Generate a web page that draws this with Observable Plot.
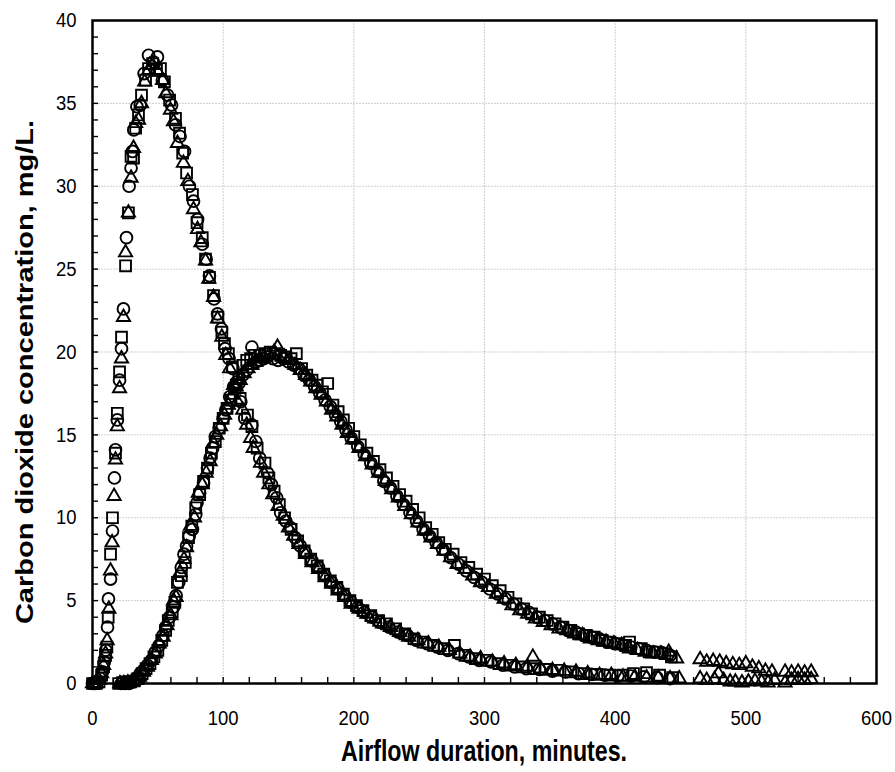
<!DOCTYPE html>
<html><head><meta charset="utf-8">
<script src="https://cdn.jsdelivr.net/npm/d3@7"></script>
<script src="https://cdn.jsdelivr.net/npm/@observablehq/plot@0.6"></script>
<style>body{margin:0;background:#fff;}</style>
</head><body><div id="chart"></div>
<script>
// Tick values
const xMajorTicks = [0,100,200,300,400,500,600];
const yMajorTicks = [0,5,10,15,20,25,30,35,40];
const xGridTicks = [100,200,300,400,500];
const yGridTicks = [5,10,15,20,25,30,35];
const xMinorTicks = [0,20,40,60,80,100,120,140,160,180,200,220,240,260,280,300,320,340,360,380,400,420,440,460,480,500,520,540,560,580];
const yMinorTicks = [1,2,3,4,5,6,7,8,9,10,11,12,13,14,15,16,17,18,19,20,21,22,23,24,25,26,27,28,29,30,31,32,33,34,35,36,37,38,39];

const xTitle = "Airflow duration, minutes.";
const yTitle = "Carbon dioxide concentration, mg/L.";

// Early-peak run: [minutes, mg/L]
const earlyCircles = [[0,0],[2,0],[4,0.1],[6,0.3],[7.5,0.7],[9,1.3],[10.2,2.0],[11.5,3.4],[12.2,5.1],[13.8,6.3],[15.3,9.2],[16.8,12.4],[17.6,14.1],[19,15.9],[20.7,18.3],[22.2,20.2],[23.7,22.6],[26,26.9],[28,30.0],[29.5,31.1],[30.6,32.1],[31.6,33.4],[34,34.8],[36.5,34.9],[39.5,36.8],[42.9,37.9],[46.5,37.5],[49.7,37.8],[53.5,36.4],[57.4,35.5],[60.5,34.9],[63.5,33.7],[67,33.0],[70.4,32.1],[74.2,30.0],[77.3,29.1],[80.4,28.0],[84,26.5],[87,25.6],[89.5,24.6],[93,23.2],[95.7,22.3],[98.7,21.4],[101.5,20.2],[104.5,19.6],[107.5,19.0],[110.5,18.2],[113.5,17.0],[116.5,16.0],[122,15.6],[125,14.6],[128,13.6],[134,12.7],[137,12.0],[141,11.2],[144,10.3],[148,9.8],[151.5,9.4],[155,8.8],[159,8.3],[163,7.9],[168,7.4],[173,7.0],[178,6.5],[183,6.1],[188,5.7],[193,5.3],[198,4.9],[203,4.6],[208,4.3],[214,4.0],[220,3.7],[227,3.4],[234,3.1],[241,2.9],[248,2.6],[256,2.4],[264,2.2],[272,2.0],[280,1.8],[288,1.6],[296,1.4],[305,1.3],[314,1.1],[323,1.0],[332,0.9],[342,0.85],[352,0.75],[362,0.7],[372,0.6],[382,0.55],[392,0.5],[402,0.45],[412,0.45],[422,0.4],[432,0.35],[442,0.3]];
const earlySquares = [[0,0],[1.5,0],[3,0],[5,0.1],[7,0.5],[8.5,1.0],[10,1.7],[11,2.2],[12,4.0],[13.8,7.8],[15.3,10.0],[17.6,13.9],[19,16.3],[20.7,18.8],[22.2,20.9],[25.3,25.2],[27.5,28.4],[29.5,31.8],[31.4,31.7],[33,33.5],[35.2,34.3],[37.5,35.5],[40.6,36.4],[42.9,37.1],[46,37.4],[49,37.0],[52,37.1],[55,36.3],[59,35.2],[63.5,34.1],[66.6,33.2],[69,32.0],[72,30.8],[76.5,29.5],[80,27.8],[84,26.9],[86.5,25.6],[89.5,24.5],[92.6,23.4],[96,22.1],[99,21.2],[101,20.5],[104,19.9],[107,19.1],[110,18.0],[113,17.2],[118.6,16.2],[122,15.5],[126,14.2],[132,13.3],[135,12.4],[139,11.6],[143,10.8],[147,10.0],[152,9.3],[157,8.6],[162,8.0],[167,7.5],[172,7.1],[177,6.6],[182,6.2],[187,5.8],[192,5.4],[197,5.0],[202,4.7],[207,4.4],[213,4.1],[219,3.8],[225,3.6],[232,3.3],[239,3.0],[246,2.7],[253,2.5],[261,2.3],[269,2.1],[277,2.3],[285,1.7],[293,1.5],[302,1.4],[311,1.2],[320,1.1],[329,1.0],[338,0.9],[347,0.85],[356,0.8],[366,0.7],[376,0.6],[386,0.55],[396,0.5],[406,0.5],[414,0.6],[424,0.65],[434,0.5],[444,0.35]];
const earlyTriangles = [[0,0],[2.5,0],[5,0.2],[7,0.6],[8.5,1.1],[10,1.8],[11.2,2.6],[12.5,4.5],[13.8,6.8],[15,8.5],[16.5,11.3],[17.6,13.5],[19,15.5],[20.7,17.8],[22.2,19.6],[23.7,22.1],[25.3,26.0],[27.5,28.4],[29.5,30.5],[31.4,32.3],[33,33.8],[35.2,34.0],[37.5,35.0],[40,36.3],[43,37.0],[46,37.3],[50,36.9],[53.6,36.4],[56,35.6],[59.7,34.6],[62,33.9],[65,32.6],[69.6,31.4],[73,30.3],[77.3,28.6],[80.4,27.4],[83,26.6],[86.5,25.5],[89,24.4],[92.6,23.3],[95.7,22.0],[99,20.9],[102,19.8],[105,19.0],[108,18.0],[111,17.0],[115,16.5],[118,15.6],[121,14.8],[123,14.2],[128.6,13.3],[131,12.7],[135,12.0],[138,11.4],[142,10.7],[146,10.1],[150,9.4],[154,8.9],[158,8.4],[163,7.8],[168,7.3],[173,6.9],[178,6.4],[183,6.0],[188,5.6],[193,5.2],[198,4.8],[204,4.5],[210,4.2],[216,3.9],[222,3.6],[228,3.4],[235,3.1],[242,2.8],[249,2.6],[257,2.4],[265,2.2],[273,2.0],[281,1.8],[289,1.6],[297,1.5],[306,1.3],[315,1.2],[324,1.1],[333,1.0],[337,1.6],[343,0.9],[352,0.8],[361,0.75],[370,0.7],[379,0.6],[388,0.5],[397,0.5],[406,0.4],[415,0.4],[424,0.35],[433,0.35],[442,0.3],[449,0.3],[465,0.3],[470,0.2],[476,0.25],[479,0.6],[483,0.2],[488,0.1],[492,0.1],[497,0.05],[502,0.1],[507,0.15],[512,0.1],[517,0.05],[522,0.2],[530,0.05],[535,0.2],[540,0.25],[545,0.2],[550,0.25]];

// Late-peak run: [minutes, mg/L]
const lateCircles = [[22,0],[25,0],[28,0],[31,0.1],[34,0.2],[36.5,0.6],[39,0.8],[42,1.1],[45,1.4],[48,1.9],[51,2.3],[54,2.9],[56,3.4],[59,4.0],[62,4.6],[64,5.3],[66,6.1],[68,7.0],[70,7.8],[72,8.3],[74,8.9],[76.5,9.3],[79,10.2],[80,10.9],[82,11.5],[85,12.1],[88,13.0],[90,13.6],[92,14.2],[94,14.9],[97,15.4],[100,16.0],[102,16.5],[105,17.3],[108,17.9],[112,18.1],[115,18.6],[118,18.9],[122,20.3],[125,19.4],[128,19.5],[131,19.6],[134,19.7],[138,19.6],[142,19.5],[146,19.6],[150,19.4],[154,19.2],[158,19.0],[162,18.6],[166,18.3],[170,17.9],[174,17.5],[178,17.1],[182,16.7],[186,16.2],[190,15.8],[194,15.3],[198,14.8],[203,14.3],[208,13.8],[213,13.3],[218,12.8],[223,12.2],[228,11.8],[233,11.3],[238,10.8],[243,10.3],[248,9.8],[253,9.3],[258,8.9],[263,8.5],[268,8.1],[274,7.6],[280,7.2],[286,6.8],[292,6.4],[298,6.1],[304,5.7],[310,5.4],[316,5.1],[322,4.8],[328,4.5],[334,4.3],[340,4.0],[346,3.8],[352,3.6],[358,3.4],[364,3.2],[370,3.1],[376,2.9],[382,2.8],[388,2.7],[394,2.5],[400,2.4],[406,2.3],[412,2.2],[418,2.1],[424,2.0],[430,1.9],[436,1.85],[442,1.7]];
const lateSquares = [[20,0],[23,0.05],[26,0.1],[29,0.1],[32,0.15],[35,0.3],[38,0.6],[41,0.9],[44,1.2],[47,1.6],[50,2.0],[53,2.6],[56,3.2],[58,3.8],[61,4.3],[63,4.9],[65,6.1],[68,6.5],[71,7.3],[73.5,8.8],[76,9.5],[79,10.6],[82,11.4],[85,12.2],[88,13.0],[91,13.9],[94,14.6],[97,15.4],[100,16.0],[103,16.6],[106,17.1],[109,17.8],[112,18.4],[115,19.2],[118,19.5],[121,19.6],[124,19.8],[128,19.8],[132,19.9],[136,20.0],[140,19.9],[144,19.8],[148,19.7],[152,19.6],[156,19.9],[160,19.0],[164,18.6],[168,18.3],[172,18.0],[176,17.6],[180,18.1],[184,16.8],[188,16.4],[192,15.9],[196,15.4],[200,14.9],[205,14.4],[210,13.9],[215,13.4],[220,12.9],[225,12.4],[230,11.9],[235,11.4],[240,11.0],[245,10.5],[250,10.0],[255,9.4],[260,9.0],[265,8.5],[270,8.1],[276,7.8],[282,7.3],[288,7.0],[294,6.6],[300,6.3],[306,5.9],[312,5.6],[318,5.2],[324,4.8],[330,4.5],[336,4.2],[342,4.0],[348,3.8],[354,3.6],[360,3.4],[366,3.2],[372,3.0],[378,2.9],[384,2.8],[390,2.6],[396,2.5],[402,2.4],[408,2.3],[411,2.5],[420,2.1],[426,1.9],[432,1.9],[438,1.8],[443,1.6]];
const lateTriangles = [[21,0],[24,0],[27,0.05],[30,0.1],[33,0.2],[36,0.4],[39,0.7],[42,1.0],[45,1.4],[48,1.8],[51,2.4],[54,2.8],[57,3.5],[60,4.1],[62,5.0],[64,5.2],[67,6.7],[70,7.5],[72,8.2],[75,9.5],[78,10.0],[81,11.5],[84,12.0],[87,12.7],[90,13.4],[92.6,14.5],[95,15.0],[98,15.5],[101,16.2],[104,16.8],[107,17.4],[110,17.9],[113,18.3],[116,18.7],[119,19.0],[122,19.2],[125,19.4],[128,19.6],[131,19.7],[135,19.8],[139,20.0],[141.6,20.3],[147,19.7],[151,19.5],[155,19.2],[159,18.9],[163,18.6],[167,18.2],[171,17.8],[175,17.4],[179,17.0],[183,16.5],[187,16.1],[191,15.6],[195,15.1],[199,14.7],[204,14.2],[209,13.7],[214,13.2],[219,12.7],[224,12.2],[229,11.7],[234,11.2],[239,10.7],[244,10.2],[249,9.7],[254,9.2],[259,8.8],[264,8.4],[269,8.0],[274,7.6],[279,7.2],[285,6.9],[291,6.5],[297,6.1],[303,5.8],[309,5.4],[315,5.1],[321,4.7],[327,4.4],[333,4.2],[339,3.9],[345,3.7],[351,3.5],[357,3.3],[363,3.2],[369,3.0],[375,2.9],[381,2.7],[387,2.6],[393,2.5],[399,2.4],[405,2.3],[411,2.1],[417,2.0],[423,1.9],[429,1.8],[435,1.8],[441,1.9],[447,1.5],[465,1.45],[470,1.3],[475,1.35],[480,1.3],[485,1.2],[490,1.15],[495,1.1],[500,1.2],[505,1.0],[510,0.9],[515,0.75],[520,0.7],[530,0.7],[535,0.65],[540,0.7],[545,0.65],[550,0.7]];

const font = "'Liberation Sans', Arial, Helvetica, sans-serif";
const squeeze = 0.8;      // horizontal compression of the axis titles
const tickSqueeze = 0.88; // horizontal compression of the tick labels
const W = 895, H = 772;
const mL = 92, mR = 19, mT = 20, mB = 89;
const tickLenX = 6 * 40 / (H - mT - mB);   // 6 px in y-units
const tickLenY = 6 * 600 / (W - mL - mR);  // 6 px in x-units

const dotOpts = (sym, r) => ({x: d => d[0], y: d => d[1], symbol: sym, r, stroke: "#000", strokeWidth: 1.9, fill: "none"});

const chart = Plot.plot({
  width: W, height: H,
  marginLeft: mL, marginRight: mR, marginTop: mT, marginBottom: mB,
  style: {fontFamily: font, fontSize: "21px", color: "#000", background: "#fff"},
  x: {domain: [0, 600]},
  y: {domain: [0, 40]},
  marks: [
    Plot.ruleX(xGridTicks, {x: d => d, stroke: "#cfcfcf", strokeWidth: 1, strokeDasharray: "2,1"}),
    Plot.ruleY(yGridTicks, {y: d => d, stroke: "#cfcfcf", strokeWidth: 1, strokeDasharray: "2,1"}),
    Plot.ruleX(xMinorTicks, {x: d => d, y1: 0, y2: tickLenX, stroke: "#000", strokeWidth: 1.4}),
    Plot.ruleY(yMinorTicks, {y: d => d, x1: 0, x2: tickLenY, stroke: "#000", strokeWidth: 1.4}),
    Plot.axisX(xMajorTicks, {tickSize: 0, tickPadding: 27, label: null, fontSize: 21}),
    Plot.axisY(yMajorTicks, {tickSize: 0, tickPadding: 16, label: null, fontSize: 21}),
    Plot.dot(earlyCircles, dotOpts("circle", 5.9)),
    Plot.dot(earlySquares, dotOpts("square", 6.1)),
    Plot.dot(earlyTriangles, dotOpts("triangle", 4.9)),
    Plot.dot(lateCircles, dotOpts("circle", 5.9)),
    Plot.dot(lateSquares, dotOpts("square", 6.1)),
    Plot.dot(lateTriangles, dotOpts("triangle", 4.9)),
    Plot.frame({stroke: "#000", strokeWidth: 2.5})
  ]
});

const svg = d3.select(chart);
// compress tick labels horizontally about their anchor point
svg.selectAll('g[aria-label$="tick label"] text').each(function() {
  const t = this.getAttribute("transform");
  if (t) {
    this.setAttribute("transform", t + ` scale(${tickSqueeze},1)`);
  } else {
    const x = +(this.getAttribute("x") || 0), y = +(this.getAttribute("y") || 0);
    this.setAttribute("transform", `translate(${x},${y}) scale(${tickSqueeze},1) translate(${-x},${-y})`);
  }
});
svg.append("text")
  .attr("transform", `translate(${mL + (W - mL - mR) / 2},753) scale(${squeeze},1)`)
  .attr("text-anchor", "middle").attr("dominant-baseline", "middle")
  .style("font-family", font).style("font-size", "29px").style("font-weight", "bold")
  .text(xTitle);
svg.append("text")
  .attr("transform", `translate(27,372) scale(${squeeze},1) rotate(-90)`)
  .attr("text-anchor", "middle").attr("dominant-baseline", "middle")
  .style("font-family", font).style("font-size", "29px").style("font-weight", "bold")
  .text(yTitle);

document.getElementById("chart").appendChild(chart);
</script>
</body></html>
